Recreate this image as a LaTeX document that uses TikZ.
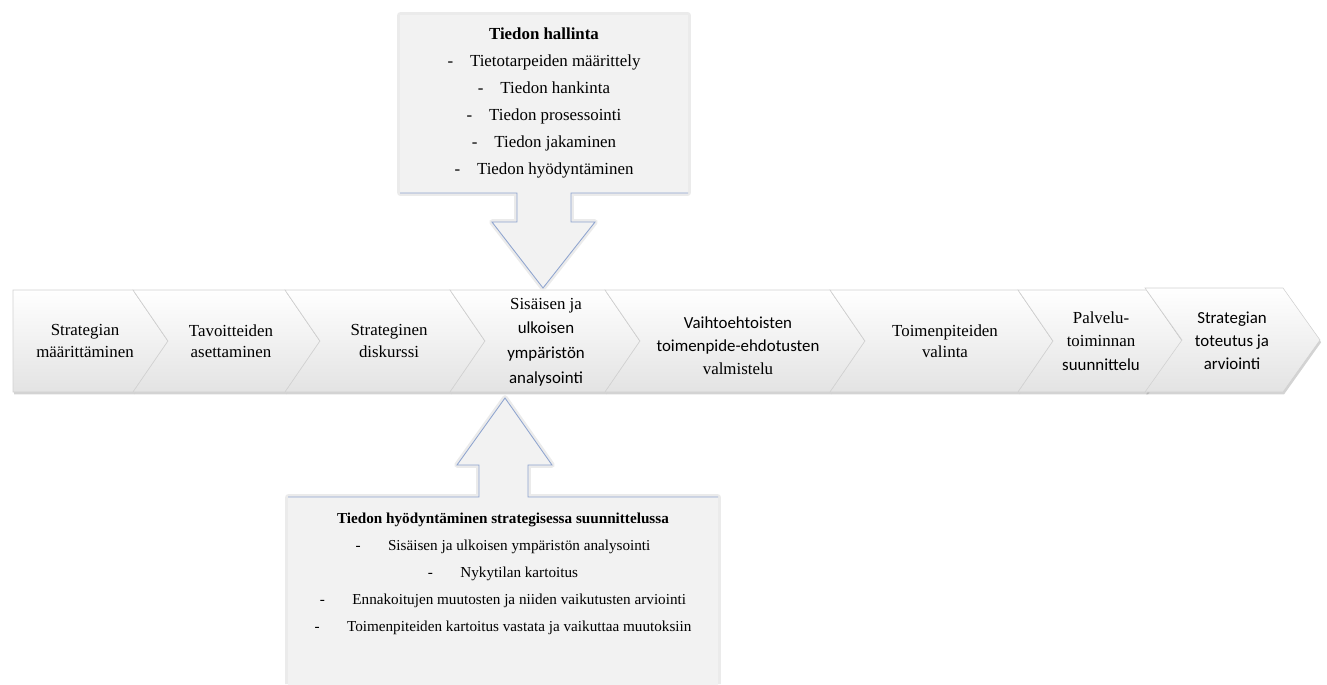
\documentclass[tikz,border=0pt]{standalone}
\usepackage{fontspec}
\setmainfont{Liberation Serif}
\setsansfont{Carlito}
\usetikzlibrary{shadows}

\definecolor{laatikko}{HTML}{F2F2F2}
\definecolor{reuna}{HTML}{8EA4CF}

\tikzset{
    vaihe/.style={
        top color=white,
        bottom color=black!11,
        draw=black!18,
        line width=0.4pt,
        drop shadow={shadow xshift=0.8pt, shadow yshift=-1.6pt, opacity=0.35}
    },
    vaiheteksti/.style={align=center, font=\rmfamily\fontsize{12}{15}\selectfont},
    halo/.style={draw=black!8, line width=4pt, line join=round},
    kehys/.style={draw=reuna, line width=0.6pt}
}

\begin{document}
\begin{tikzpicture}[x=0.025cm, y=-0.025cm]
                \useasboundingbox (0,0) rectangle (1327,684);

                % vaiheet
                \draw[vaihe] (13,290) -- (133,290) -- (168,341) -- (133,392) -- (13,392) -- cycle;
                \draw[vaihe] (133,290) -- (285,290) -- (320,341) -- (285,392) -- (133,392) -- (168,341) -- cycle;
                \draw[vaihe] (285,290) -- (450,290) -- (485,341) -- (450,392) -- (285,392) -- (320,341) -- cycle;
                \draw[vaihe] (450,290) -- (605,290) -- (640,341) -- (605,392) -- (450,392) -- (485,341) -- cycle;
                \draw[vaihe] (605,290) -- (830,290) -- (865,341) -- (830,392) -- (605,392) -- (640,341) -- cycle;
                \draw[vaihe] (830,290) -- (1018,290) -- (1053,341) -- (1018,392) -- (830,392) -- (865,341) -- cycle;
                \draw[vaihe] (1018,290) -- (1147,290) -- (1182,341) -- (1147,392) -- (1018,392) -- (1053,341) -- cycle;
                \draw[vaihe] (1145,288) -- (1283,288) -- (1320,340) -- (1283,392) -- (1145,392) -- (1182,340) -- cycle;

                \node[vaiheteksti] (vaihe1) at (85,341) {Strategian\\määrittäminen};
                \node[vaiheteksti] (vaihe2) at (231,341) {Tavoitteiden\\asettaminen};
                \node[vaiheteksti] (vaihe3) at (389,341) {Strateginen\\diskurssi};
                \node[vaiheteksti, font=\rmfamily\fontsize{12}{17.5}\selectfont] (vaihe4) at (546,342)
                    {Sisäisen ja\\{\sffamily ulkoisen}\\{\sffamily ympäristön}\\{\sffamily analysointi}};
                \node[vaiheteksti, font=\rmfamily\fontsize{12}{16.5}\selectfont] (vaihe5) at (738,346)
                    {{\sffamily Vaihtoehtoisten}\\{\sffamily toimenpide-ehdotusten}\\valmistelu};
                \node[vaiheteksti] (vaihe6) at (945,341) {Toimenpiteiden\\valinta};
                \node[vaiheteksti, font=\rmfamily\fontsize{12}{16.5}\selectfont] (vaihe7) at (1101,341)
                    {Palvelu-\\toiminnan\\{\sffamily suunnittelu}};
                \node[vaiheteksti, font=\sffamily\fontsize{12}{16.5}\selectfont] (vaihe8) at (1232,341)
                    {Strategian\\toteutus ja\\arviointi};

                % tiedon hallinta
                \draw[halo] (400,15) -- (688,15) -- (688,193) -- (571,193) -- (571,222) -- (595,222)
                    -- (543,288) -- (492,222) -- (517,222) -- (517,193) -- (400,193) -- cycle;
                \fill[laatikko] (400,15) -- (688,15) -- (688,193) -- (571,193) -- (571,222) -- (595,222)
                    -- (543,288) -- (492,222) -- (517,222) -- (517,193) -- (400,193) -- cycle;
                \draw[kehys] (400,193) -- (517,193) -- (517,222) -- (492,222) -- (543,288)
                    -- (595,222) -- (571,222) -- (571,193) -- (688,193);

                \node[align=center, font=\rmfamily\fontsize{12}{19.2}\selectfont] (hallinta) at (544,103) {
                    \textbf{Tiedon hallinta}\\
                    -\hspace{1em}Tietotarpeiden määrittely\\
                    -\hspace{1em}Tiedon hankinta\\
                    -\hspace{1em}Tiedon prosessointi\\
                    -\hspace{1em}Tiedon jakaminen\\
                    -\hspace{1em}Tiedon hyödyntäminen};

                % tiedon hyodyntaminen
                \draw[halo] (288,684) -- (288,497) -- (479,497) -- (479,465) -- (457,465) -- (505,398)
                    -- (552,465) -- (528,465) -- (528,497) -- (718,497) -- (718,684);
                \fill[laatikko] (288,690) -- (288,497) -- (479,497) -- (479,465) -- (457,465) -- (505,398)
                    -- (552,465) -- (528,465) -- (528,497) -- (718,497) -- (718,690) -- cycle;
                \draw[kehys] (288,497) -- (479,497) -- (479,465) -- (457,465) -- (505,398)
                    -- (552,465) -- (528,465) -- (528,497) -- (718,497);

                \node[align=center, font=\rmfamily\fontsize{10.8}{19.2}\selectfont] (hyodyntaminen) at (503,574) {
                    \textbf{Tiedon hyödyntäminen strategisessa suunnittelussa}\\
                    -\hspace{1.8em}Sisäisen ja ulkoisen ympäristön analysointi\\
                    -\hspace{1.8em}Nykytilan kartoitus\\
                    -\hspace{1.8em}Ennakoitujen muutosten ja niiden vaikutusten arviointi\\
                    -\hspace{1.8em}Toimenpiteiden kartoitus vastata ja vaikuttaa muutoksiin};

            \end{tikzpicture}
\end{document}
